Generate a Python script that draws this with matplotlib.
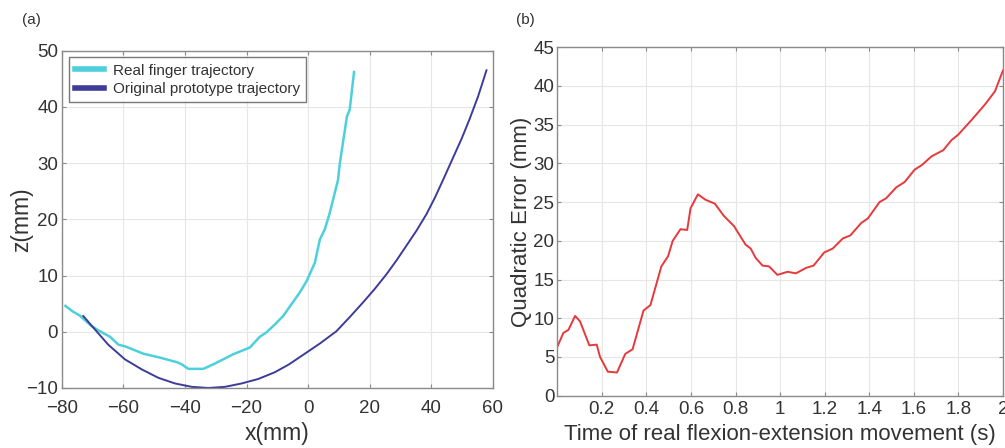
import matplotlib
matplotlib.use("Agg")
import matplotlib.pyplot as plt

plt.rcParams['font.family'] = ['Liberation Sans', 'DejaVu Sans']

# ---- Panel (a) data: trajectories (x, z) in mm ----
real_x = [-78.8, -76.4, -74.2, -70.3, -67.0, -64.3, -61.6, -59.4, -53.5, -48.1,
          -42.7, -41.0, -38.9, -34.0, -30.8, -24.3, -18.9, -15.7, -13.5, -10.8,
          -8.1, -2.7, -0.5, 2.2, 3.8, 5.4, 7.0, 9.7, 10.3, 12.6, 13.5, 14.9]
real_z = [4.6, 3.6, 2.9, 1.0, -0.1, -0.9, -2.3, -2.6, -3.9, -4.6,
          -5.4, -5.8, -6.6, -6.6, -5.8, -4.0, -2.8, -0.9, -0.1, 1.3,
          2.8, 7.0, 9.0, 12.3, 16.4, 18.2, 21.1, 27.0, 30.0, 38.3, 39.5, 46.2]

proto_x = [-73.0, -69.2, -64.9, -59.5, -54.0, -48.6, -43.2, -37.8, -32.4, -27.0,
           -21.6, -16.2, -10.8, -6.2, -1.6, 3.8, 9.2, 13.5, 17.8, 21.6,
           25.4, 28.7, 31.9, 35.2, 38.4, 41.2, 43.8, 47.0, 49.8, 52.4,
           55.2, 57.9]
proto_z = [2.8, 0.4, -2.3, -4.9, -6.7, -8.2, -9.2, -9.8, -10.0, -9.8,
           -9.2, -8.4, -7.2, -5.8, -4.1, -2.1, 0.1, 2.6, 5.2, 7.6,
           10.2, 12.7, 15.3, 18.0, 20.9, 23.9, 27.0, 30.9, 34.3, 37.8,
           41.9, 46.5]

# ---- Panel (b) data: quadratic error over time ----
t_s = [0.0, 0.027, 0.05, 0.08, 0.102, 0.144, 0.177, 0.192, 0.227, 0.268,
       0.305, 0.338, 0.387, 0.418, 0.467, 0.497, 0.518, 0.553, 0.583, 0.598,
       0.631, 0.665, 0.707, 0.748, 0.793, 0.845, 0.868, 0.89, 0.921, 0.95,
       0.988, 1.033, 1.071, 1.116, 1.15, 1.198, 1.236, 1.281, 1.315, 1.364,
       1.394, 1.446, 1.476, 1.521, 1.559, 1.604, 1.637, 1.679, 1.732, 1.769,
       1.799, 1.859, 1.919, 1.964, 2.0]
err_mm = [6.3, 8.1, 8.5, 10.3, 9.6, 6.5, 6.6, 5.0, 3.1, 3.0,
          5.4, 6.0, 11.0, 11.7, 16.7, 18.0, 20.0, 21.5, 21.4, 24.2,
          26.0, 25.3, 24.8, 23.2, 21.9, 19.5, 19.0, 17.8, 16.8, 16.7,
          15.6, 16.0, 15.8, 16.5, 16.8, 18.5, 19.0, 20.3, 20.7, 22.3,
          22.9, 25.0, 25.5, 26.9, 27.6, 29.2, 29.8, 30.9, 31.7, 33.0,
          33.7, 35.6, 37.6, 39.3, 42.0]

xticks_a = [-80, -60, -40, -20, 0, 20, 40, 60]
yticks_a = [-10, 0, 10, 20, 30, 40, 50]
xticks_b = [0.2, 0.4, 0.6, 0.8, 1.0, 1.2, 1.4, 1.6, 1.8, 2.0]
xticklabels_b = ['0.2', '0.4', '0.6', '0.8', '1', '1.2', '1.4', '1.6', '1.8', '2']
yticks_b = [0, 5, 10, 15, 20, 25, 30, 35, 40, 45]

TXT = '#333333'
SPINE = '#8a8a8a'
GRID = '#e6e6e6'

fig = plt.figure(figsize=(10.05, 4.48), dpi=100)

def style(ax, xpad, ypad):
    ax.grid(True, color=GRID, linewidth=0.8)
    ax.set_axisbelow(True)
    for s in ax.spines.values():
        s.set_color(SPINE)
        s.set_linewidth(1.0)
    ax.tick_params(direction='in', length=3, colors=SPINE, labelcolor=TXT,
                   labelsize=13.5, top=True, right=True)
    ax.tick_params(axis='x', pad=xpad)
    ax.tick_params(axis='y', pad=ypad)

ax1 = fig.add_axes([0.0614, 0.134, 0.4291, 0.753])
ax1.plot(real_x, real_z, color='#4dd0db', linewidth=1.8, label='Real finger trajectory')
ax1.plot(proto_x, proto_z, color='#3c3c9a', linewidth=1.4, label='Original prototype trajectory')
ax1.set_xlim(-80, 60)
ax1.set_ylim(-10, 50)
ax1.set_xticks(xticks_a)
ax1.set_yticks(yticks_a)
style(ax1, 9, 2.5)
ax1.set_xlabel('x(mm)', fontsize=16.5, color=TXT, labelpad=3.5)
ax1.set_ylabel('z(mm)', fontsize=16.5, color=TXT, labelpad=-5)
leg = ax1.legend(loc='upper left', fontsize=11, frameon=True, fancybox=False,
                 edgecolor='#555555', borderaxespad=0.45, handlelength=1.9,
                 borderpad=0.4, labelspacing=0.3, handletextpad=0.6)
leg.get_frame().set_linewidth(1.0)
for ln in leg.get_lines():
    ln.set_linewidth(4)
for tx in leg.get_texts():
    tx.set_color(TXT)

ax2 = fig.add_axes([0.5545, 0.1167, 0.4435, 0.778])
ax2.plot(t_s, err_mm, color='#e8383b', linewidth=1.4)
ax2.set_xlim(0, 2)
ax2.set_ylim(0, 45)
ax2.set_xticks(xticks_b)
ax2.set_xticklabels(xticklabels_b)
ax2.set_yticks(yticks_b)
style(ax2, 3.5, 2)
ax2.set_xlabel('Time of real flexion-extension movement (s)', fontsize=16, color=TXT, labelpad=4.5)
ax2.set_ylabel('Quadratic Error (mm)', fontsize=16, color=TXT, labelpad=1)

fig.text(0.022, 0.955, '(a)', fontsize=11, color=TXT, va='center')
fig.text(0.513, 0.955, '(b)', fontsize=11, color=TXT, va='center')

fig.savefig('out.png', dpi=100, facecolor='white')
